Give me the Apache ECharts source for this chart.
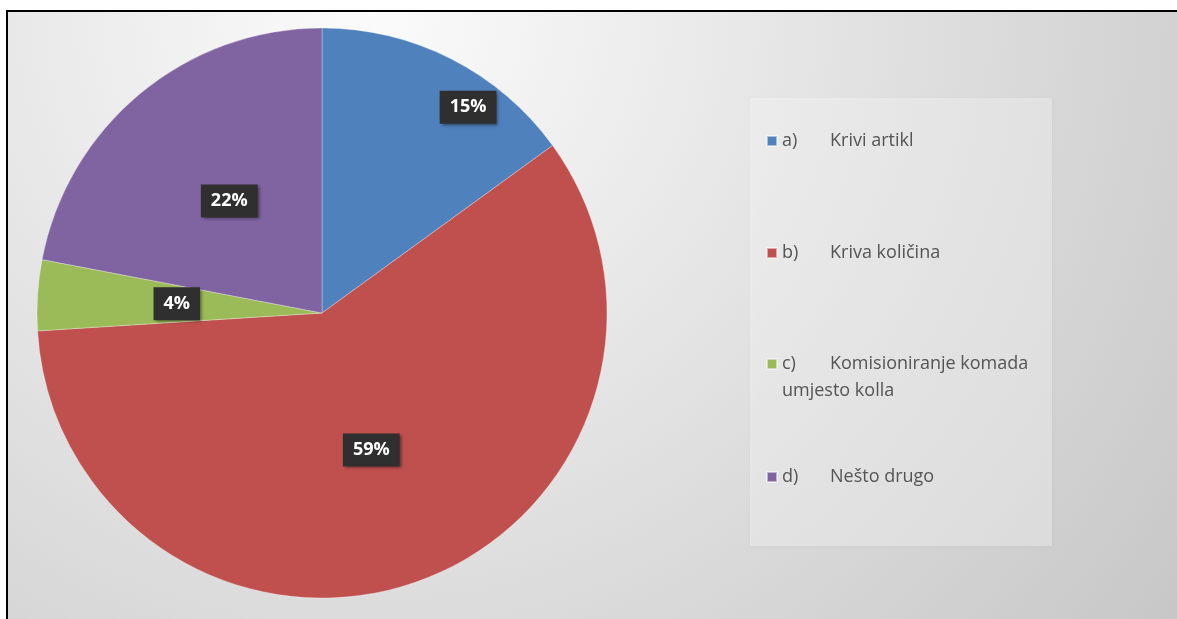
<!DOCTYPE html>
<html>
<head>
<meta charset="utf-8">
<script src="https://cdn.jsdelivr.net/npm/echarts@6/dist/echarts.min.js"></script>
<style>
  html, body { margin: 0; padding: 0; background: #fff; }
  #chart { width: 1177px; height: 619px; }
</style>
</head>
<body>
<div id="chart"></div>
<script>
    // podaci
    var keys = ['a)', 'b)', 'c)', 'd)'];
    var names = ['Krivi artikl', 'Kriva količina', 'Komisioniranje komada\numjesto kolla', 'Nešto drugo'];
    var values = [15, 59, 4, 22];
    var colors = ['#4f81bd', '#c0504d', '#9bbb59', '#8064a2'];

    // sredina ikone legende po stavci
    var legendY = [141, 253, 364, 477];
    var lh = 27;
    var fs = 18;

    var dom = document.getElementById('chart');
    var myChart = echarts.init(dom);

    var data = [];
    for (var i = 0; i < keys.length; i++) {
        data.push({ name: keys[i], value: values[i], itemStyle: { color: colors[i] } });
    }

    function legendText(name) {
        var idx = keys.indexOf(name);
        var lines = names[idx].split('\n');
        var s = '{k|' + name + '}{t|' + lines[0] + '}';
        for (var j = 1; j < lines.length; j++) {
            s += '\n{t|' + lines[j] + '}';
        }
        return s;
    }

    var legends = [];
    for (var i = 0; i < keys.length; i++) {
        var nLines = names[i].split('\n').length;
        var pad = (nLines - 1) * lh;
        var half = (nLines * lh + pad) / 2;
        legends.push({
            data: [keys[i]],
            orient: 'vertical',
            left: 766,
            top: legendY[i] - half,
            padding: 0,
            itemWidth: 10,
            itemHeight: 10,
            icon: 'rect',
            selectedMode: false,
            formatter: legendText,
            textStyle: {
                color: '#545454',
                fontFamily: 'Open Sans',
                fontSize: fs,
                lineHeight: lh,
                padding: [pad, 0, 0, 0],
                rich: {
                    k: { width: 48, fontFamily: 'Open Sans', fontSize: fs, color: '#545454', lineHeight: lh },
                    t: { fontFamily: 'Open Sans', fontSize: fs, color: '#545454', lineHeight: lh }
                }
            }
        });
    }

    var option = {
        backgroundColor: '#ffffff',
        animation: false,
        graphic: [
            {
                type: 'rect',
                z: -10,
                shape: { x: 7, y: 11, width: 1180, height: 620 },
                style: {
                    fill: new echarts.graphic.RadialGradient(0.31, 0.0, 1.65, [
                        { offset: 0, color: '#fbfbfb' },
                        { offset: 1, color: '#c6c6c6' }
                    ]),
                    stroke: '#000000',
                    lineWidth: 2
                }
            },
            {
                type: 'rect',
                z: -9,
                shape: { x: 750, y: 98, width: 302, height: 448 },
                style: {
                    fill: 'rgba(255,255,255,0.35)',
                    shadowColor: 'rgba(0,0,0,0.08)',
                    shadowBlur: 3,
                    shadowOffsetX: 1,
                    shadowOffsetY: 1
                }
            }
        ],
        legend: legends,
        series: [{
            type: 'pie',
            center: [322, 313],
            radius: 285,
            startAngle: 90,
            clockwise: true,
            data: data,
            itemStyle: {
                borderColor: 'rgba(255,255,255,0.5)',
                borderWidth: 0.6
            },
            label: {
                show: true,
                position: 'inside',
                formatter: function (p) { return p.value + '%'; },
                color: '#ffffff',
                fontFamily: 'Open Sans',
                fontWeight: 'bold',
                fontSize: 18,
                backgroundColor: '#2f2f2f',
                padding: [8, 10, 7, 10],
                shadowColor: 'rgba(0,0,0,0.45)',
                shadowBlur: 3,
                shadowOffsetX: 2,
                shadowOffsetY: 2
            },
            labelLayout: function (params) {
                // oznaka 15% je pomaknuta prema rubu
                if (params.dataIndex === 0) {
                    return { dx: 80, dy: -76 };
                }
            },
            emphasis: { disabled: true }
        }]
    };
    myChart.setOption(option);
</script>
</body>
</html>
